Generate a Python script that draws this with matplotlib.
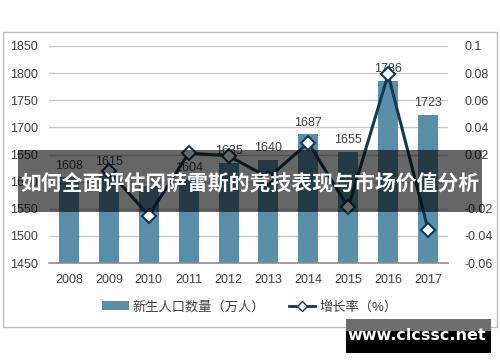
import matplotlib
matplotlib.use("Agg")
import matplotlib.pyplot as plt
import numpy as np
from matplotlib.patches import Rectangle, Patch
from matplotlib.lines import Line2D

plt.rcParams['font.family'] = ['Liberation Sans', 'Noto Sans CJK SC', 'DejaVu Sans']

years = ['2008', '2009', '2010', '2011', '2012', '2013', '2014', '2015', '2016', '2017']
births = [1608, 1615, 1592, 1604, 1635, 1640, 1687, 1655, 1786, 1723]
show_label = [True, True, False, True, True, True, True, True, True, True]
growth = [np.nan, 0.008, -0.025, 0.021, 0.019, 0.003, 0.0287, -0.019, 0.079, -0.0353]
bar_label = '新生人口数量（万人）'
line_label = '增长率（%）'
title = '如何全面评估冈萨雷斯的竞技表现与市场价值分析'
watermark = 'www.clcssc.net'

bar_color = '#5b8fa9'
line_color = '#0f3c50'
text_color = '#404040'

fig = plt.figure(figsize=(5, 3.62), dpi=100)
fig.patch.set_facecolor('white')

# outer chart border
fig.patches.append(Rectangle((3/500, 1-327/362), 494/500, 295/362, transform=fig.transFigure,
                             fill=False, edgecolor='#bdbdbd', linewidth=1.0, zorder=0))

ax = fig.add_axes([49/500, 1-263/362, 399/500, 217/362])
x = np.arange(len(years))
ax.bar(x, births, width=0.5, color=bar_color, zorder=2)
ax.set_ylim(1450, 1850)
ax.set_xlim(-0.5, len(years)-0.5)
ax.set_yticks(np.arange(1450, 1851, 50))
ax.set_xticks(x)
ax.set_xticklabels(years)
ax.grid(axis='y', color='#c8c8c8', linewidth=1.0, zorder=0)
ax.set_axisbelow(True)
for s in ['top', 'right', 'left']:
    ax.spines[s].set_visible(False)
ax.spines['bottom'].set_color('#8c8c8c')
ax.spines['bottom'].set_linewidth(1.2)
ax.tick_params(axis='both', length=0, labelsize=9, colors=text_color)
ax.tick_params(axis='y', pad=8)
ax.tick_params(axis='x', pad=8)

for xi, v, sh in zip(x, births, show_label):
    if sh:
        ax.annotate(str(v), (xi, v), xytext=(0, 4), textcoords='offset points',
                    ha='center', va='bottom', fontsize=9, color=text_color, zorder=3)

ax2 = ax.twinx()
ax2.set_ylim(-0.06, 0.1)
rt = np.round(np.arange(-0.06, 0.1001, 0.02), 2)
ax2.set_yticks(rt)
ax2.set_yticklabels([('' if abs(v) < 1e-9 else f'{v:g}') for v in rt])
for s in ax2.spines.values():
    s.set_visible(False)
ax2.tick_params(axis='y', length=0, labelsize=9, colors=text_color, pad=12)
ax2.plot(x, growth, color=line_color, linewidth=2.2, marker='D', markersize=7,
         markerfacecolor='white', markeredgecolor=line_color, markeredgewidth=1.5, zorder=4)

handles = [Patch(facecolor=bar_color, edgecolor='none'),
           Line2D([0], [0], color=line_color, linewidth=2.0, marker='D', markersize=5,
                  markerfacecolor='white', markeredgecolor=line_color)]
fig.legend(handles, [bar_label, line_label], loc='center', bbox_to_anchor=(0.5, 1-307/362),
           ncol=2, frameon=False, fontsize=9.5, handlelength=2.0, columnspacing=1.8,
           handletextpad=0.3, labelcolor=text_color)

# title band overlay
fig.patches.append(Rectangle((18/500, 1-212/362), 464/500, 62/362, transform=fig.transFigure,
                             facecolor='black', alpha=0.6, edgecolor='none', zorder=10))
fig.text(0.5, 1-183/362, title, ha='center', va='center', color='white', fontsize=15,
         fontweight='bold', family=['Noto Sans CJK SC', 'DejaVu Sans'], zorder=11)

# watermark box
fig.patches.append(Rectangle((346/500, 1-331/362), 145/500, 12/362, transform=fig.transFigure,
                             facecolor='#6e6e6e', edgecolor='none', zorder=10))
fig.patches.append(Rectangle((346/500, 1-353/362), 145/500, 22/362, transform=fig.transFigure,
                             facecolor='black', edgecolor='none', zorder=10))
fig.text(417/500, 1-336/362, watermark, ha='center', va='center', color='white', fontsize=11.5,
         fontweight='bold', family=['DejaVu Sans'], zorder=11)

fig.savefig('out.png', dpi=100)
